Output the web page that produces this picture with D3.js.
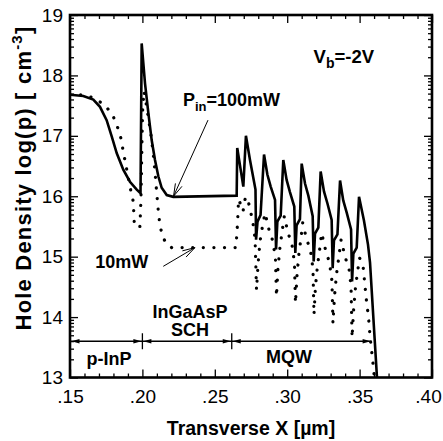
<!DOCTYPE html>
<html>
<head>
<meta charset="utf-8">
<script src="https://cdn.jsdelivr.net/npm/d3@7"></script>
<style>
  body { margin: 0; background: #fff; }
  text { font-family: "Liberation Sans", Arial, Helvetica, sans-serif; fill: #000; }
</style>
</head>
<body>
<svg id="chart" width="443" height="441"></svg>
<script>

// tick values / labels
const xTicks = [0.15, 0.20, 0.25, 0.30, 0.35, 0.40];
const xTickLabels = ['.15', '.20', '.25', '.30', '.35', '.40'];
const yTicks = [13, 14, 15, 16, 17, 18, 19];
const yTickLabels = ['13', '14', '15', '16', '17', '18', '19'];

// P_in = 100mW (solid)
const solidX = [0.1500, 0.1592, 0.1661, 0.1707, 0.1753, 0.1788, 0.1823, 0.1868, 0.1914, 0.1961, 0.1987,
  0.1995, 0.2018, 0.2041, 0.2064, 0.2087, 0.2110, 0.2133, 0.2168, 0.2213, 0.2651,
  0.2655, 0.2697, 0.2715, 0.2743, 0.2771, 0.2781, 0.2785, 0.2795, 0.2816,
  0.2840, 0.2863, 0.2886, 0.2916, 0.2923, 0.2932, 0.2955,
  0.2973, 0.2996, 0.3019, 0.3049, 0.3056, 0.3065, 0.3088,
  0.3100, 0.3123, 0.3146, 0.3176, 0.3183, 0.3192, 0.3215,
  0.3231, 0.3254, 0.3278, 0.3307, 0.3314, 0.3323, 0.3347,
  0.3365, 0.3387, 0.3411, 0.3441, 0.3448, 0.3457, 0.3480,
  0.3496, 0.3530, 0.3558, 0.3572, 0.3620];
const solidY = [17.68, 17.66, 17.60, 17.48, 17.26, 16.99, 16.71, 16.44, 16.24, 16.11, 16.05,
  18.53, 17.87, 17.38, 16.93, 16.60, 16.33, 16.14, 16.02, 15.99, 16.01,
  16.80, 16.16, 17.00, 16.60, 16.24, 16.11, 15.28, 15.58, 15.69,
  16.69, 16.36, 16.16, 15.94, 15.12, 15.58, 15.68,
  16.60, 16.27, 16.07, 15.83, 15.06, 15.52, 15.62,
  16.54, 16.21, 16.01, 15.67, 14.92, 15.38, 15.48,
  16.41, 16.08, 15.88, 15.61, 14.81, 15.27, 15.37,
  16.26, 15.93, 15.73, 15.45, 14.59, 15.05, 15.15,
  15.99, 15.60, 15.20, 14.90, 13.00];

// P_in = 10mW (dotted)
const dottedX = [0.1500, 0.1592, 0.1661, 0.1742, 0.1799, 0.1845, 0.1868, 0.1892, 0.1914, 0.1937, 0.1945,
  0.1983, 0.1990, 0.2001, 0.2011, 0.2025, 0.2041, 0.2060, 0.2075, 0.2087, 0.2099, 0.2110, 0.2122,
  0.2144, 0.2170, 0.2202, 0.2646,
  0.2657, 0.2664, 0.2681, 0.2695, 0.2709, 0.2722, 0.2743, 0.2764, 0.2778, 0.2788, 0.2798, 0.2812, 0.2829,
  0.2847, 0.2874, 0.2902, 0.2919, 0.2926, 0.2936, 0.2950, 0.2964,
  0.2980, 0.3005, 0.3033, 0.3050, 0.3057, 0.3068, 0.3081, 0.3095,
  0.3107, 0.3133, 0.3161, 0.3178, 0.3185, 0.3195, 0.3209, 0.3223,
  0.3238, 0.3264, 0.3292, 0.3309, 0.3316, 0.3327, 0.3340, 0.3354,
  0.3372, 0.3399, 0.3427, 0.3441, 0.3448, 0.3458, 0.3472, 0.3486,
  0.3500, 0.3524, 0.3549, 0.3561, 0.3572, 0.3591, 0.3600];
const dottedY = [17.68, 17.68, 17.63, 17.51, 17.32, 17.04, 16.74, 16.44, 16.16, 15.91, 15.50,
  15.50, 15.95, 17.40, 17.74, 17.55, 17.30, 17.00, 16.70, 16.40, 16.05, 15.75, 15.50,
  15.31, 15.20, 15.15, 15.15,
  15.55, 15.95, 15.85, 15.75, 15.95, 15.99, 15.80, 15.55, 15.30, 14.45, 14.85, 15.25, 15.50,
  15.72, 15.45, 15.25, 14.95, 14.34, 14.80, 15.15, 15.40,
  15.67, 15.40, 15.20, 14.90, 14.23, 14.70, 15.05, 15.30,
  15.56, 15.30, 15.10, 14.80, 14.04, 14.50, 14.85, 15.10,
  15.39, 15.12, 14.90, 14.60, 13.90, 14.35, 14.70, 14.95,
  15.28, 15.00, 14.80, 14.50, 13.66, 14.10, 14.50, 14.75,
  14.98, 14.84, 14.23, 14.01, 13.68, 13.27, 13.05];

// device regions along the transverse axis
const regionEdges = [0.15, 0.20, 0.2617, 0.3583];
const regionLevel = 13.6;

// ---- layout
const margin = { left: 70, right: 11, top: 15, bottom: 63.5 };
const width = 443, height = 441;
const svg = d3.select('#chart');

const x = d3.scaleLinear().domain([0.15, 0.40]).range([margin.left, width - margin.right]);
const y = d3.scaleLinear().domain([13, 19]).range([height - margin.bottom, margin.top]);

const x0 = x.range()[0], x1 = x.range()[1];
const y0 = y.range()[0], y1 = y.range()[1];

// minor ticks: every .01 on x, log decades on y
const xMinor = d3.range(15, 41).map(d => d / 100).filter(d => Math.abs(d * 20 - Math.round(d * 20)) > 1e-6);
const yMinor = [];
yTicks.slice(0, -1).forEach(function(t) {
  [2, 3, 4, 5, 6, 7, 8, 9].forEach(function(k) { yMinor.push(t + Math.log10(k)); });
});

svg.append('defs').append('clipPath').attr('id', 'plot-clip')
  .append('rect').attr('x', x0).attr('y', y1).attr('width', x1 - x0).attr('height', y0 - y1);

function styleAxis(g) {
  g.select('.domain').remove();
  g.selectAll('.tick line').attr('stroke', '#000').attr('stroke-width', 1.3);
  g.selectAll('.tick text').attr('font-size', 19).attr('fill', '#000')
    .style('font-family', '"Liberation Sans", Arial, sans-serif');
}

// bottom axis
const xAxisG = svg.append('g').attr('transform', 'translate(0,' + y0 + ')')
  .call(d3.axisBottom(x).tickValues(xTicks).tickSize(-8).tickPadding(12)
    .tickFormat((d, i) => xTickLabels[i]))
  .call(styleAxis);
// last label sits on the page edge: nudge it in
xAxisG.selectAll('.tick text').filter((d, i) => i === xTicks.length - 1).attr('dx', -4);

svg.append('g').attr('transform', 'translate(0,' + y0 + ')')
  .call(d3.axisBottom(x).tickValues(xMinor).tickSize(-4).tickFormat(''))
  .call(styleAxis);

// top axis
svg.append('g').attr('transform', 'translate(0,' + y1 + ')')
  .call(d3.axisTop(x).tickValues(xTicks).tickSize(-8).tickFormat(''))
  .call(styleAxis);
svg.append('g').attr('transform', 'translate(0,' + y1 + ')')
  .call(d3.axisTop(x).tickValues(xMinor).tickSize(-4).tickFormat(''))
  .call(styleAxis);

// left axis
svg.append('g').attr('transform', 'translate(' + x0 + ',0)')
  .call(d3.axisLeft(y).tickValues(yTicks).tickSize(-8).tickPadding(7)
    .tickFormat((d, i) => yTickLabels[i]))
  .call(styleAxis);
svg.append('g').attr('transform', 'translate(' + x0 + ',0)')
  .call(d3.axisLeft(y).tickValues(yMinor).tickSize(-4).tickFormat(''))
  .call(styleAxis);

// right axis
svg.append('g').attr('transform', 'translate(' + x1 + ',0)')
  .call(d3.axisRight(y).tickValues(yTicks).tickSize(-8).tickFormat(''))
  .call(styleAxis);
svg.append('g').attr('transform', 'translate(' + x1 + ',0)')
  .call(d3.axisRight(y).tickValues(yMinor).tickSize(-4).tickFormat(''))
  .call(styleAxis);

// frame
svg.append('rect')
  .attr('x', x0).attr('y', y1).attr('width', x1 - x0).attr('height', y0 - y1)
  .attr('fill', 'none').attr('stroke', '#000').attr('stroke-width', 2.6);

// curves
const line = d3.line().x(d => x(d[0])).y(d => y(d[1]));
const plot = svg.append('g').attr('clip-path', 'url(#plot-clip)');

plot.append('path')
  .datum(dottedX.map((d, i) => [d, dottedY[i]]))
  .attr('d', line)
  .attr('fill', 'none').attr('stroke', '#000').attr('stroke-width', 3.2)
  .attr('stroke-linecap', 'round').attr('stroke-dasharray', '0.1 10.5');

plot.append('path')
  .datum(solidX.map((d, i) => [d, solidY[i]]))
  .attr('d', line)
  .attr('fill', 'none').attr('stroke', '#000').attr('stroke-width', 2.6)
  .attr('stroke-linejoin', 'miter').attr('stroke-miterlimit', 3);

// region markers
const ry = y(regionLevel);
svg.append('line')
  .attr('x1', x(regionEdges[0])).attr('x2', x(regionEdges[regionEdges.length - 1]))
  .attr('y1', ry).attr('y2', ry).attr('stroke', '#000').attr('stroke-width', 1.3);

regionEdges.slice(1, -1).forEach(function(e) {
  svg.append('line').attr('x1', x(e)).attr('x2', x(e)).attr('y1', ry - 8).attr('y2', ry + 8)
    .attr('stroke', '#000').attr('stroke-width', 1.3);
});

function arrowHead(tipX, tipY, dir) {
  // dir = -1 points left, +1 points right
  const len = 8, half = 2.3;
  svg.append('path')
    .attr('d', 'M' + tipX + ',' + tipY + 'L' + (tipX - dir * len) + ',' + (tipY - half) +
      'L' + (tipX - dir * len) + ',' + (tipY + half) + 'Z')
    .attr('fill', '#000');
}
for (let i = 0; i < regionEdges.length - 1; i++) {
  arrowHead(x(regionEdges[i]) + (i === 0 ? 1.5 : 1), ry, -1);
  arrowHead(x(regionEdges[i + 1]) - 1, ry, 1);
}

const bold = 'bold';
function label(txt, px, py, size, anchor) {
  return svg.append('text').attr('x', px).attr('y', py)
    .attr('font-size', size).attr('font-weight', bold)
    .attr('text-anchor', anchor || 'start').text(txt);
}

label('p-InP', x(0.1769), y(13.21), 18, 'middle');
label('InGaAsP', x(0.2329), y(13.98), 18, 'middle');
label('SCH', x(0.2329), y(13.68), 18, 'middle');
label('MQW', x(0.3012), y(13.24), 18, 'middle');

// annotations
const pin = svg.append('text').attr('x', x(0.2280)).attr('y', y(17.50))
  .attr('font-size', 18).attr('font-weight', bold);
pin.append('tspan').text('P');
pin.append('tspan').attr('font-size', 13).attr('dy', 5).text('in');
pin.append('tspan').attr('dy', -5).text('=100mW');

label('10mW', x(0.1674), y(14.82), 18);

const vb = svg.append('text').attr('x', x(0.3182)).attr('y', y(18.20))
  .attr('font-size', 18.5).attr('font-weight', bold);
vb.append('tspan').text('V');
vb.append('tspan').attr('font-size', 14).attr('dy', 5).text('b');
vb.append('tspan').attr('dy', -5).text('=-2V');

function pointer(xa, ya, xb, yb) {
  const ax = x(xa), ay = y(ya), bx = x(xb), by = y(yb);
  svg.append('line').attr('x1', ax).attr('y1', ay).attr('x2', bx).attr('y2', by)
    .attr('stroke', '#000').attr('stroke-width', 1);
  const ang = Math.atan2(by - ay, bx - ax);
  [-0.28, 0.28].forEach(function(da) {
    svg.append('line').attr('x1', bx).attr('y1', by)
      .attr('x2', bx - 13 * Math.cos(ang + da)).attr('y2', by - 13 * Math.sin(ang + da))
      .attr('stroke', '#000').attr('stroke-width', 1);
  });
}
pointer(0.2453, 17.26, 0.2215, 16.0);
pointer(0.2144, 14.84, 0.2363, 15.15);

// axis titles
svg.append('text')
  .attr('x', (x0 + x1) / 2).attr('y', 435)
  .attr('text-anchor', 'middle').attr('font-size', 19.5).attr('font-weight', bold)
  .text('Transverse X [µm]');

const yt = svg.append('text')
  .attr('transform', 'translate(31,178) rotate(-90)')
  .attr('text-anchor', 'middle').attr('font-size', 22).attr('font-weight', bold)
  .attr('letter-spacing', 1.2);
yt.append('tspan').text('Hole Density log(p) [ cm');
yt.append('tspan').attr('font-size', 15).attr('dy', -9).text('-3');
yt.append('tspan').attr('dy', 9).text(']');

</script>
</body>
</html>
